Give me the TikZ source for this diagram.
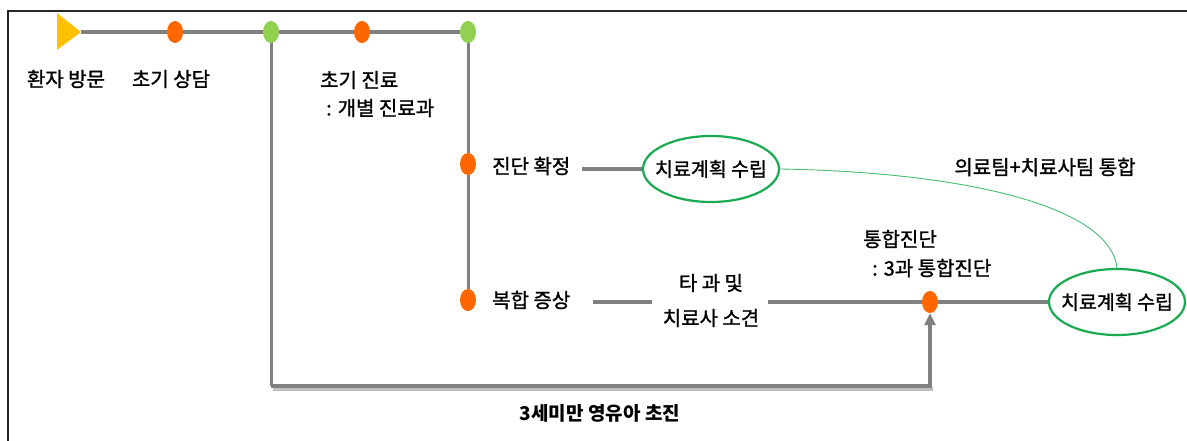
\documentclass[tikz,border=0pt]{standalone}
\usepackage{fontspec}
\setmainfont{Noto Sans CJK KR}
\newfontfamily\medfont{Noto Sans CJK KR}[FakeBold=1.3]
\usetikzlibrary{shapes.geometric,backgrounds,arrows.meta}
\definecolor{lgray}{HTML}{808080}
\definecolor{dotorange}{HTML}{FF6600}
\definecolor{dotgreen}{HTML}{92D050}
\definecolor{ellgreen}{HTML}{1AAA50}
\definecolor{startyellow}{HTML}{FFC000}
\tikzset{
  odot/.style={ellipse,fill=dotorange,minimum width=16pt,minimum height=22pt,inner sep=0pt},
  gdot/.style={ellipse,fill=dotgreen,minimum width=16pt,minimum height=22pt,inner sep=0pt},
  lbl/.style={font=\medfont\fontsize{20pt}{24pt}\selectfont,inner sep=0pt,align=center},
  plan/.style={ellipse,draw=ellgreen,line width=2.2pt,minimum width=136pt,minimum height=66pt,inner xsep=-20pt,inner ysep=0pt,font=\medfont\fontsize{19.5pt}{24pt}\selectfont},
  mainline/.style={draw=lgray,line width=4pt},
  vline/.style={draw=lgray,line width=3pt},
}
\begin{document}
\begin{tikzpicture}[x=1pt,y=-1pt]
\useasboundingbox (0,0) rectangle (1187,441);
% frame
\draw[line width=2pt,black!85] (8,441) -- (8,11) -- (1187,11);
% start triangle
\coordinate (start) at (81,32);
\fill[startyellow] (57,13) -- (start) -- (57,50) -- cycle;
% dots
\node[odot] (d1) at (175,32) {};
\node[gdot] (g1) at (271,32) {};
\node[odot] (d2) at (362,32) {};
\node[gdot] (g2) at (468,32) {};
\node[odot] (dx) at (468,164) {};
\node[odot] (dc) at (468,300) {};
\node[odot] (di) at (930,302) {};
% labels
\node[lbl] (t1) at (66,79) {환자 방문};
\node[lbl] (t2) at (171,79) {초기 상담};
\node[lbl,anchor=west] (t3) at (320,80) {초기 진료};
\node[lbl,anchor=west] (t3b) at (326,108) {: 개별 진료과};
\node[lbl,anchor=west] (t4) at (492,166) {진단 확정};
\node[lbl,anchor=west] (t5) at (492,300) {복합 증상};
\node[lbl] (t6) at (711,283) {타 과 및};
\node[lbl] (t6b) at (711,318) {치료사 소견};
\node[lbl,anchor=west] (t7) at (863,239) {통합진단};
\node[lbl,anchor=west] (t7b) at (872,268) {: 3과 통합진단};
\node[lbl] (t8) at (1045,167) {의료팀+치료사팀 통합};
\node[lbl,font=\bfseries\fontsize{19pt}{22pt}\selectfont] (t9) at (600,413) {3세미만 영유아 초진};
% ellipses
\node[plan] (e1) at (711,169) {치료계획 수립};
\node[plan] (e2) at (1117,302) {치료계획 수립};
\coordinate (bl) at (271,386);
\coordinate (br) at (930,386);
\coordinate (l1) at (582,169);
\coordinate (l2a) at (593,302);
\coordinate (l2b) at (652,302);
\coordinate (l3) at (768,302);
\begin{scope}[on background layer]
\draw[mainline] (start) -- (g2.center);
\draw[vline] (g1.center) -- (bl);
\draw[vline] (g2.center) -- (dc.center);
\draw[mainline] (l1) -- (e1.west);
\draw[mainline] (l2a) -- (l2b);
\draw[mainline] (l3) -- (e2.west);
\draw[draw=black!25,line width=4pt] (273,389) -- (933,389);
\draw[draw=lgray,line width=3.5pt,-{Triangle[length=12pt,width=11pt]}] (bl) -- (br) -- (di.south);
\end{scope}
\draw[ellgreen!80,line width=0.9pt] (e1.east) .. controls (960,172) and (1110,205) .. (e2.north);
\end{tikzpicture}
\end{document}
